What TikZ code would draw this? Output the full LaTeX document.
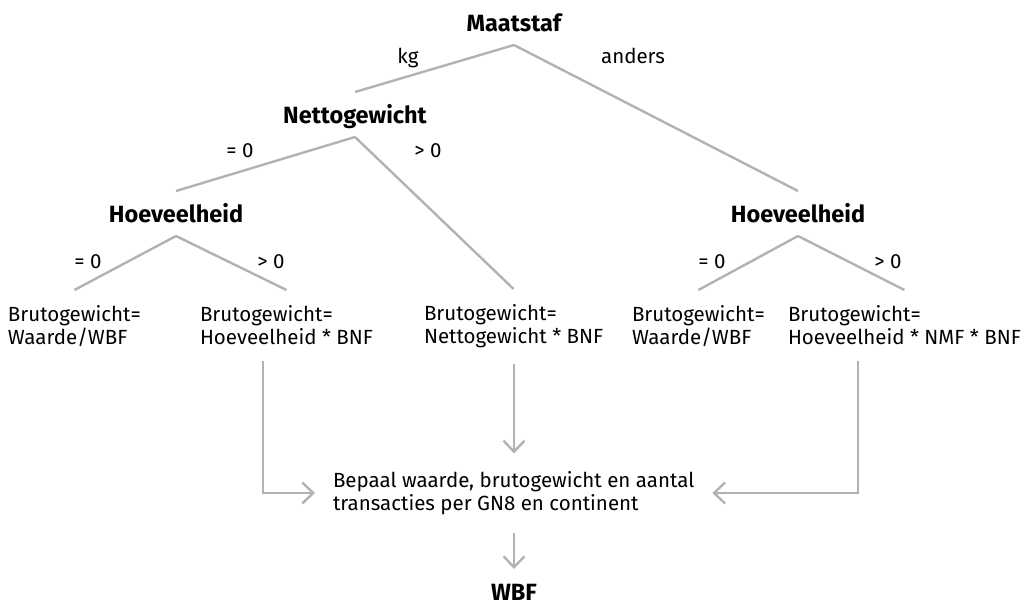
\documentclass[tikz,border=0pt]{standalone}
\usepackage{fontspec}
\setmainfont{Fira Sans}
\usetikzlibrary{arrows.meta}
\definecolor{linegray}{RGB}{178,178,178}
\begin{document}
\begin{tikzpicture}[x=1pt, y=-1pt,
  main/.style = {font=\fontsize{23.5}{25}\selectfont\bfseries, inner sep=0pt, text height=22pt, text depth=5pt, outer ysep=9pt, anchor=base},
  leaf/.style = {font=\fontsize{20.5}{22.7}\selectfont, align=left, inner sep=0pt, outer xsep=0pt, outer ysep=16pt, anchor=north west},
  box/.style = {font=\fontsize{20.5}{22.7}\selectfont, align=left, inner sep=0pt, outer sep=18pt, anchor=west},
  lbl/.style = {font=\fontsize{20.5}{23}\selectfont, inner sep=0pt, anchor=base},
  branch/.style = {draw=linegray, line width=2.4pt},
  flow/.style = {draw=linegray, line width=2.4pt, -{Straight Barb[length=11pt, width=21pt]}}]
\useasboundingbox (0,0) rectangle (1026,605);
\node[main] (1) at (514,31) {Maatstaf};
\node[main] (2) at (355,123) {Nettogewicht};
\node[main] (3) at (176,222) {Hoeveelheid};
\node[main] (4) at (798,222) {Hoeveelheid};
\node[leaf] (5) at (8,290) {Brutogewicht=\\Waarde/WBF};
\node[leaf] (6) at (200,290) {Brutogewicht=\\Hoeveelheid * BNF};
\node[leaf] (7) at (424,289) {Brutogewicht=\\Nettogewicht * BNF};
\node[leaf] (8) at (632,290) {Brutogewicht=\\Waarde/WBF};
\node[leaf] (9) at (788,290) {Brutogewicht=\\Hoeveelheid * NMF * BNF};
\node[box] (10) at (315,493) {Bepaal waarde, brutogewicht en aantal\\transacties per GN8 en continent};
\node[main] (11) at (514,600) {WBF};

\node[lbl] (12) at (408,63) {kg};
\node[lbl] (13) at (633,63) {anders};
\node[lbl] (14) at (240,157) {= 0};
\node[lbl] (15) at (428,157) {> 0};
\node[lbl] (16) at (88,268) {= 0};
\node[lbl] (17) at (271,268) {> 0};
\node[lbl] (18) at (712,268) {= 0};
\node[lbl] (19) at (888,268) {> 0};

\draw[branch] (1.south) -- (2.north);
\draw[branch] (1.south) -- (4.north);
\draw[branch] (2.south) -- (3.north);
\draw[branch] (2.south) -- (7.north);
\draw[branch] (3.south) -- (5.north);
\draw[branch] (3.south) -- (6.north);
\draw[branch] (4.south) -- (8.north);
\draw[branch] (4.south) -- (9.north);

\draw[flow] ([xshift=63pt]6.south west) |- (10.west);
\draw[flow] (11.north |- 7.south) -- (11.north |- 10.north);
\draw[flow] ([xshift=70pt]9.south west) |- (10.east);
\draw[flow] (11.north |- 10.south) -- (11.north);
\end{tikzpicture}
\end{document}
